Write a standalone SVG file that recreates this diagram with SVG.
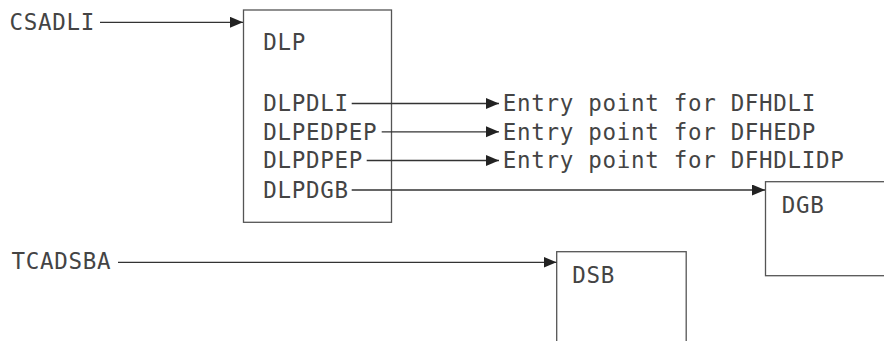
<svg xmlns="http://www.w3.org/2000/svg" width="884" height="341" viewBox="0 0 884 341">
<style>
text{font-family:"DejaVu Sans Mono","Liberation Mono",monospace;font-size:22.5px;letter-spacing:0.7px;fill:#444}
.box{fill:none;stroke:#555;stroke-width:1.3}
.conn line{stroke:#333;stroke-width:1.3;fill:none}
.arr{marker-end:url(#ah)}
</style>
<defs>
<marker id="ah" markerUnits="userSpaceOnUse" markerWidth="14" markerHeight="12" refX="13" refY="5.5" orient="auto">
<path d="M0,0 L13,5.5 L0,11 Z" fill="#222"/>
</marker>
</defs>
<rect width="884" height="341" fill="#fff"/>
<g id="csadli"><text x="9.5" y="30">CSADLI</text></g>
<g id="tcadsba"><text x="11.5" y="269.3">TCADSBA</text></g>
<g id="dlp">
<rect class="box" x="243.5" y="10" width="148" height="212.3"/>
<text x="263.3" y="50">DLP</text>
<text x="263.3" y="111">DLPDLI</text>
<text x="263.3" y="139.5">DLPEDPEP</text>
<text x="263.3" y="168.3">DLPDPEP</text>
<text x="263.3" y="198.3">DLPDGB</text>
</g>
<g id="entry1"><text x="502.7" y="111">Entry point for DFHDLI</text></g>
<g id="entry2"><text x="502.7" y="139.5">Entry point for DFHEDP</text></g>
<g id="entry3"><text x="502.7" y="168.3">Entry point for DFHDLIDP</text></g>
<g id="dgb">
<rect class="box" x="765.5" y="181.7" width="130" height="94"/>
<text x="781.7" y="213.3">DGB</text>
</g>
<g id="dsb">
<rect class="box" x="556.7" y="251.7" width="129.5" height="100"/>
<text x="572.3" y="282.7">DSB</text>
</g>
<g id="connectors" class="conn">
<line class="arr" x1="100" y1="22.3" x2="243" y2="22.3"/>
<line class="arr" x1="351.7" y1="103.5" x2="499" y2="103.5"/>
<line class="arr" x1="381.7" y1="131.8" x2="499" y2="131.8"/>
<line class="arr" x1="366.7" y1="160.5" x2="499" y2="160.5"/>
<line class="arr" x1="351.7" y1="190" x2="765" y2="190"/>
<line class="arr" x1="118" y1="262.3" x2="556.5" y2="262.3"/>
</g>
</svg>
